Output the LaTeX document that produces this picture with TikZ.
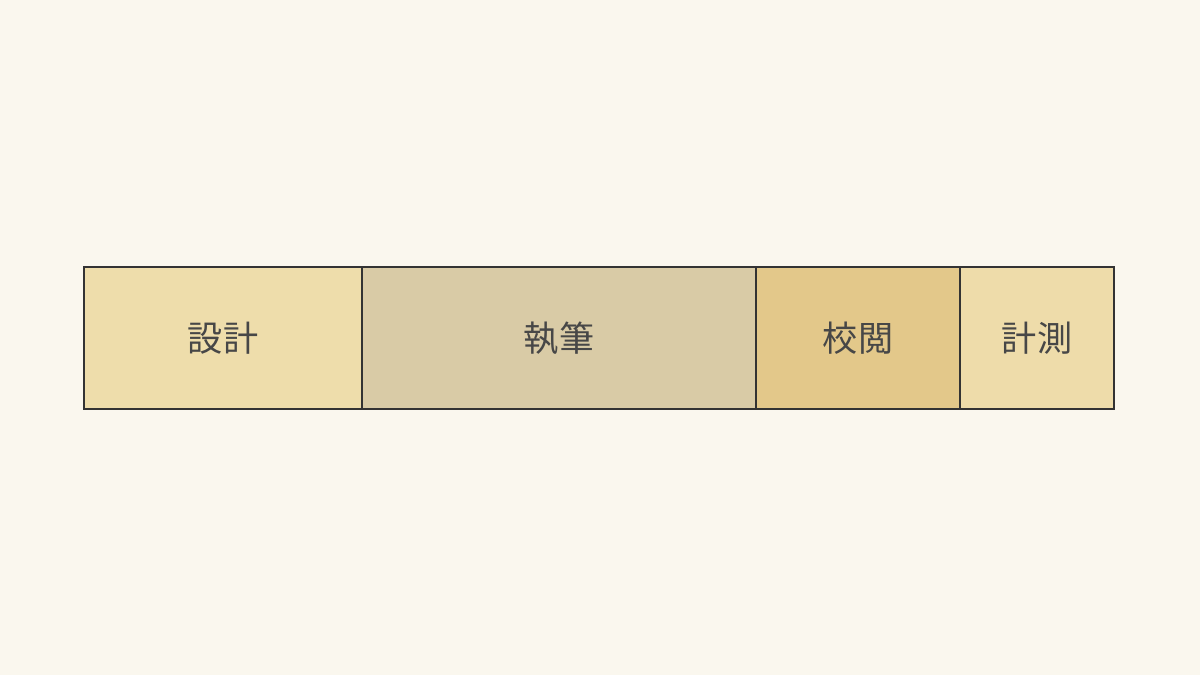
\documentclass[tikz,border=0pt]{standalone}
\usepackage{fontspec}
\newfontfamily\cjk{Noto Sans CJK JP}
\usepackage{tikz}
\usetikzlibrary{positioning}

\definecolor{paper}{HTML}{FAF7EE}
\definecolor{ink}{HTML}{333333}
\definecolor{textgray}{HTML}{474747}
\definecolor{sand}{HTML}{EEDDAB}
\definecolor{taupe}{HTML}{D9CBA6}
\definecolor{gold}{HTML}{E3C88A}
\definecolor{cream}{HTML}{EEDCAA}

\begin{document}
\begin{tikzpicture}

  \tikzstyle{phase}=[rectangle,draw=ink,line width=0.8pt,
    text=textgray,font=\cjk\fontsize{20}{24}\selectfont,
    minimum height=2.84cm,inner sep=0pt]

  %% background paper
  \fill[paper] (0,0) rectangle (24,13.5);
  \useasboundingbox (0,0) rectangle (24,13.5);

  \node  (design) at (4.46,6.74)  [phase,fill=sand,minimum width=5.56cm]  {設計};
  \node  (write)  at (11.18,6.74) [phase,fill=taupe,minimum width=7.88cm] {執筆};
  \node  (review) at (17.16,6.74) [phase,fill=gold,minimum width=4.08cm]  {校閲};
  \node  (measure) at (20.74,6.74) [phase,fill=cream,minimum width=3.08cm] {計測};

\end{tikzpicture}
\end{document}
